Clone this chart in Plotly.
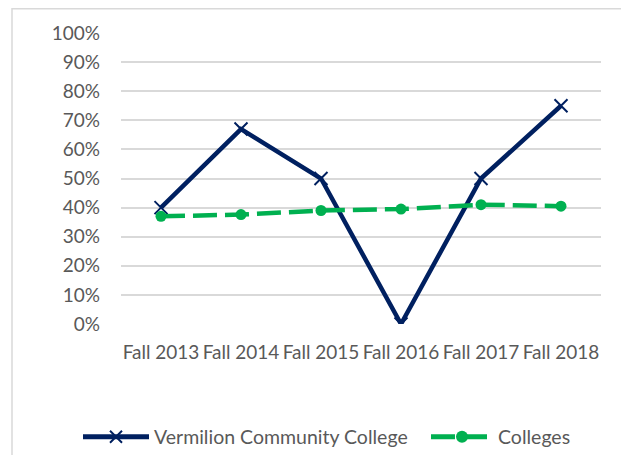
import plotly.graph_objects as go

categories = ["Fall 2013", "Fall 2014", "Fall 2015", "Fall 2016", "Fall 2017", "Fall 2018"]
vcc = [0.40, 0.67, 0.50, 0.00, 0.50, 0.75]
colleges = [0.37, 0.376, 0.39, 0.395, 0.41, 0.405]
y_ticks = [0, 0.1, 0.2, 0.3, 0.4, 0.5, 0.6, 0.7, 0.8, 0.9, 1.0]

FONT = "Lato"
GRAY = "#595959"

# the page body adds an 8px offset, so the figure is drawn 8px smaller
W, H = 621, 447
L, R, T, B = 113, 28, 25, 131
PW, PH = W - L - R, H - T - B

fig = go.Figure()
fig.add_trace(go.Scatter(
    x=categories, y=vcc, name="Vermilion Community College",
    mode="lines+markers", legend="legend",
    line=dict(color="#002060", width=4.5),
    marker=dict(symbol="x-thin", size=13, line=dict(color="#002060", width=2), color="#002060"),
))
fig.add_trace(go.Scatter(
    x=categories, y=colleges, name="Colleges",
    mode="lines+markers", legend="legend2",
    line=dict(color="#00B050", width=4.5, dash="24px,8px"),
    marker=dict(symbol="circle", size=11, color="#00B050"),
))

legend_y = (H - B - 429) / PH
fig.update_layout(
    width=W, height=H,
    margin=dict(l=L, r=R, t=T, b=B, autoexpand=False),
    paper_bgcolor="white", plot_bgcolor="white",
    font=dict(family=FONT, size=19, color=GRAY),
    showlegend=True,
    legend=dict(orientation="h", x=(70 - L) / PW, xanchor="left",
                y=legend_y, yanchor="middle",
                itemwidth=66, font=dict(family=FONT, size=19.5, color=GRAY),
                itemsizing="constant"),
    legend2=dict(orientation="h", x=(418 - L) / PW, xanchor="left",
                 y=legend_y, yanchor="middle",
                 itemwidth=62, font=dict(family=FONT, size=19.5, color=GRAY),
                 itemsizing="constant"),
    xaxis=dict(type="category", range=[-0.5, 5.5], showgrid=False, showline=False,
               zeroline=False, tickfont=dict(family=FONT, size=19, color=GRAY),
               ticks="", ticklabelstandoff=15, automargin=False),
    yaxis=dict(range=[0, 1.0], tickvals=y_ticks, tickformat=".0%",
               showgrid=True, gridcolor="#D9D9D9", gridwidth=1.5,
               zeroline=False, showline=False, ticks="",
               tickfont=dict(family=FONT, size=19, color=GRAY),
               ticklabelstandoff=20, automargin=False),
    shapes=[dict(type="rect", xref="paper", yref="paper",
                 x0=(4 - L) / PW, x1=1.2, y0=-0.6, y1=1 + (T - 0.75) / PH,
                 line=dict(color="#D9D9D9", width=1.5), fillcolor="rgba(0,0,0,0)", layer="below")],
)

fig.write_html("out.html")
